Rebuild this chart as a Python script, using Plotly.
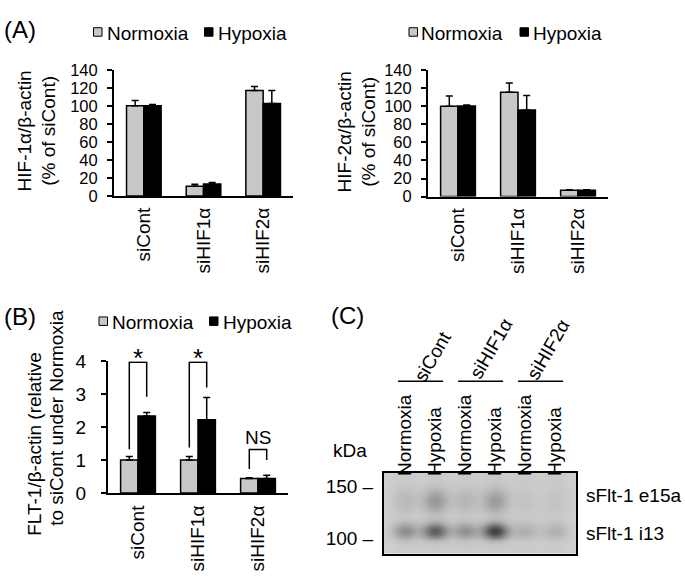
import numpy as np
import plotly.graph_objects as go

W, H = 685, 584
FONT = "Liberation Sans, Arial, Helvetica, sans-serif"
FS = 19

# ---------------- data ----------------
categories = ["siCont", "siHIF1α", "siHIF2α"]
conditions = ["Normoxia", "Hypoxia"]
cond_colors = ["#c8c8c8", "#000000"]

# (A) left: HIF-1α/β-actin (% of siCont)
hif1_norm = [100, 11, 117]
hif1_norm_err = [6, 2, 4.5]
hif1_hyp = [100, 13.5, 102.5]
hif1_hyp_err = [1.5, 1.5, 14.5]

# (A) right: HIF-2α/β-actin (% of siCont)
hif2_norm = [100, 115.5, 7]
hif2_norm_err = [11.5, 10.5, 0.5]
hif2_hyp = [100.5, 96, 7]
hif2_hyp_err = [1, 16, 0.5]

# (B) FLT-1/β-actin relative to siCont under Normoxia
flt_norm = [1.0, 1.0, 0.44]
flt_norm_err = [0.11, 0.11, 0.02]
flt_hyp = [2.34, 2.22, 0.44]
flt_hyp_err = [0.1, 0.68, 0.1]

# significance brackets (B)
sig_labels = ["*", "*", "NS"]
sig_top = [3.97, 3.97, 1.32]
sig_left_bottom = [1.33, 1.38, 0.73]
sig_right_bottom = [2.92, 3.2, 1.0]
sig_text_y = [4.27, 4.27, 1.68]

# (C) western blot
lanes = [1, 2, 3, 4, 5, 6]
lane_labels = ["Normoxia", "Hypoxia"] * 3
groups = ["siCont", "siHIF1α", "siHIF2α"]
band_names = ["sFlt-1 e15a", "sFlt-1 i13"]
band_mw = [134, 106]
band_e15a = [0.09, 0.27, 0.11, 0.25, 0.04, 0.04]
band_i13 = [0.32, 0.58, 0.30, 0.74, 0.14, 0.14]
marker_mw = [150, 100]
marker_labels = ["150 –", "100 –"]
blot_mw_range = [88.7, 166.6]


def px(x):
    return x / W


def py(y):
    return 1 - y / H


fig = go.Figure()

BARGAP = 0.42
half = (1 - BARGAP) / 4.0


def add_bars(xa, ya, norm, norm_err, hyp, hyp_err):
    for name, vals, errs, col in [
        (conditions[0], norm, norm_err, cond_colors[0]),
        (conditions[1], hyp, hyp_err, cond_colors[1]),
    ]:
        fig.add_trace(go.Bar(
            x=categories, y=vals, name=name, xaxis=xa, yaxis=ya,
            marker=dict(color=col, line=dict(color="black", width=1.5)),
            error_y=dict(type="data", array=errs, arrayminus=[0] * len(errs),
                         symmetric=False, color="black", thickness=1.5, width=3.5),
            showlegend=False,
        ))


add_bars("x", "y", hif1_norm, hif1_norm_err, hif1_hyp, hif1_hyp_err)
add_bars("x2", "y2", hif2_norm, hif2_norm_err, hif2_hyp, hif2_hyp_err)
add_bars("x3", "y3", flt_norm, flt_norm_err, flt_hyp, flt_hyp_err)

# blot heatmap
ylo, yhi = np.log10(blot_mw_range[0]), np.log10(blot_mw_range[1])
gx = np.linspace(0.3, 6.7, 193)
gy = np.linspace(ylo, yhi, 85)
XX, YY = np.meshgrid(gx, gy)
Z = np.zeros_like(XX)
sig_y = [0.028, 0.019]
for li, lane in enumerate(lanes):
    prof_x = np.exp(-0.5 * ((XX - lane) / 0.30) ** 2)
    for bi, inten in enumerate([band_e15a[li], band_i13[li]]):
        Z += inten * prof_x * np.exp(-0.5 * ((YY - np.log10(band_mw[bi])) / sig_y[bi]) ** 2)
    Z += 0.03 * np.exp(-0.5 * ((XX - lane) / 0.35) ** 2)
Z = np.clip(Z, 0, 1)
fig.add_trace(go.Heatmap(
    x=gx, y=gy, z=Z, xaxis="x4", yaxis="y4", zmin=0, zmax=1,
    colorscale=[[0, "rgb(208,208,208)"], [1, "rgb(20,20,20)"]],
    showscale=False, zsmooth="best", hoverinfo="skip",
))

axis_common = dict(showline=True, linecolor="black", linewidth=2, showgrid=False,
                   zeroline=False, tickfont=dict(family=FONT, size=FS, color="black"))

def xcat(domain, anchor, standoff):
    return dict(axis_common, domain=domain, anchor=anchor, type="category",
                range=[-0.5, 2.5], ticks="", tickangle=-90, ticklabelstandoff=standoff)

def yval(domain, anchor, rng, dt, fs, standoff):
    return dict(axis_common, domain=domain, anchor=anchor, range=rng, dtick=dt,
                tick0=0, ticks="outside", ticklen=5, tickwidth=1.5, tickcolor="black",
                ticklabelstandoff=standoff, tickfont=dict(family=FONT, size=fs, color="black"))

layout = dict(
    width=W, height=H, margin=dict(l=0, r=0, t=0, b=0),
    paper_bgcolor="white", plot_bgcolor="white",
    barmode="group", bargap=BARGAP, bargroupgap=0, showlegend=False,
    font=dict(family=FONT, size=FS, color="black"),
    xaxis=xcat([px(114), px(293)], "y", 2),
    yaxis=yval([py(193), py(62)], "x", [0, 140], 20, 16.5, 6),
    xaxis2=xcat([px(428), px(608)], "y2", 2),
    yaxis2=yval([py(193.5), py(62.5)], "x2", [0, 140], 20, 16.5, 6),
    xaxis3=xcat([px(108), px(288)], "y3", 3),
    yaxis3=yval([py(501), py(364.3)], "x3", [0, 4], 1, FS, 11),
    xaxis4=dict(axis_common, domain=[px(384), px(576)], anchor="y4", range=[0.3, 6.7],
                side="top", mirror=True, tickvals=lanes, ticktext=lane_labels,
                tickangle=-90, ticks="", ticklabelstandoff=-9),
    yaxis4=dict(axis_common, domain=[py(564), py(480)], anchor="x4", range=[ylo, yhi],
                mirror=True, tickvals=list(np.log10(marker_mw)), ticktext=marker_labels,
                ticks="", ticklabelstandoff=5),
)
fig.update_layout(**layout)

shapes = []
annotations = []

def ann(text, x, y, size=FS, xanchor="center", yanchor="middle", angle=0, **kw):
    d = dict(text=text, x=x, y=y, xref="paper", yref="paper", showarrow=False,
             xanchor=xanchor, yanchor=yanchor, textangle=angle,
             font=dict(family=FONT, size=size, color="black"))
    d.update(kw)
    annotations.append(d)

# panel labels
ann("(A)", px(2), py(20), size=24, xanchor="left")
ann("(B)", px(2), py(318), size=24, xanchor="left")
ann("(C)", px(329), py(317), size=24, xanchor="left")

# y-axis titles
ann("HIF-1α/β-actin<br>(% of siCont)", px(37), py(126), angle=-90)
ann("HIF-2α/β-actin<br>(% of siCont)", px(357), py(127), angle=-90)
ann("FLT-1/β-actin (relative", px(35), py(450), angle=-90)
ann("to siCont under Normoxia", px(57), py(423), angle=-90)

# legends (square + text)
legend_pos = [  # (normoxia sq x0, text x, hypoxia sq x0, text x, center y)
    (93.5, 105, 204.5, 216, 23),
    (409, 418.5, 520, 531, 23),
    (99, 110, 209.5, 221, 323),
]
for nx, ntx, hx, htx, cy in legend_pos:
    for sx, tx, lab, col in [(nx, ntx, conditions[0], cond_colors[0]),
                             (hx, htx, conditions[1], cond_colors[1])]:
        shapes.append(dict(type="rect", xref="paper", yref="paper",
                           x0=px(sx), x1=px(sx + 8.5), y0=py(cy + 4.2), y1=py(cy - 4.6),
                           fillcolor=col, line=dict(color="black", width=1)))
        ann(lab, px(tx), py(cy + 1), xanchor="left")

# significance brackets (B)
b_range = layout["yaxis3"]["range"]
for i, lab in enumerate(sig_labels):
    xl, xr = i - half, i + half
    shapes.append(dict(type="path", xref="x3", yref="y3",
                       path=f"M {xl},{sig_left_bottom[i]} L {xl},{sig_top[i]} L {xr},{sig_top[i]} L {xr},{sig_right_bottom[i]}",
                       line=dict(color="black", width=1.5)))
    size = 26 if lab == "*" else FS
    annotations.append(dict(text=lab, x=i, y=(sig_text_y[i] - b_range[0]) / (b_range[1] - b_range[0]),
                            xref="x3", yref="y3 domain",
                            showarrow=False, xanchor="center", yanchor="middle",
                            yshift=(-0.22 * size if lab == "*" else 0),
                            font=dict(family=FONT, size=size, color="black")))

# blot group lines and labels
for gi, g in enumerate(groups):
    l = lanes[2 * gi]
    shapes.append(dict(type="line", xref="x4", yref="paper",
                       x0=l - 0.23, x1=l + 1.27, y0=py(385), y1=py(385),
                       line=dict(color="black", width=1.5)))
group_centers = [(432.5, 359), (491, 351), (548, 352)]
for g, (cx, cy) in zip(groups, group_centers):
    ann(g, px(cx), py(cy), angle=-60)

ann("kDa", px(331), py(457), xanchor="left")
for name, mw, yc in zip(band_names, band_mw, [504, 543]):
    ann(name, px(584), py(yc), xanchor="left")

fig.update_layout(shapes=shapes, annotations=annotations)
fig.write_html("out.html", config={"displayModeBar": False},
               post_script="document.body.style.margin='0';document.body.style.padding='0';")
